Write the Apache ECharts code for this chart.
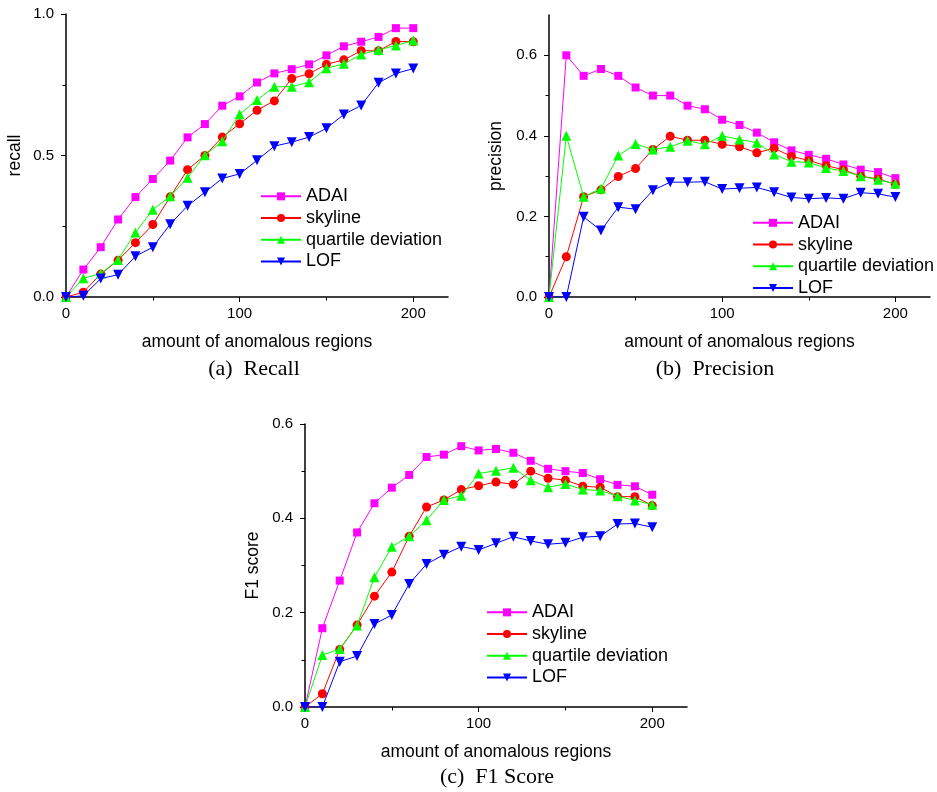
<!DOCTYPE html>
<html><head><meta charset="utf-8">
<script src="https://cdn.jsdelivr.net/npm/echarts@6/dist/echarts.min.js"></script>
<style>html,body{margin:0;padding:0;background:#fff}#c{width:937px;height:792px}</style>
</head><body><div id="c"></div>
<script>
const amounts = [0,10,20,30,40,50,60,70,80,90,100,110,120,130,140,150,160,170,180,190,200];
const seriesNames = ['ADAI','skyline','quartile deviation','LOF'];
const xTickLabels = [0,100,200];
const xMinorTicks = [50,150];

const recallADAI = [0,0.097,0.176,0.274,0.353,0.417,0.482,0.564,0.611,0.676,0.709,0.758,0.790,0.805,0.822,0.854,0.886,0.902,0.919,0.950,0.950];
const recallSkyline = [0,0.017,0.081,0.130,0.192,0.256,0.354,0.450,0.500,0.565,0.612,0.660,0.693,0.772,0.789,0.822,0.838,0.870,0.870,0.903,0.902];
const recallQuartile = [0,0.066,0.083,0.131,0.228,0.308,0.356,0.421,0.501,0.550,0.646,0.696,0.743,0.743,0.759,0.808,0.824,0.857,0.873,0.889,0.906];
const recallLOF = [0,0.004,0.065,0.079,0.144,0.176,0.257,0.322,0.370,0.419,0.435,0.483,0.533,0.547,0.565,0.596,0.645,0.677,0.757,0.790,0.807];

const precADAI = [0,0.600,0.549,0.566,0.549,0.520,0.500,0.500,0.475,0.466,0.440,0.427,0.408,0.384,0.364,0.353,0.343,0.329,0.316,0.310,0.295];
const precSkyline = [0,0.100,0.249,0.266,0.299,0.319,0.366,0.399,0.389,0.389,0.379,0.373,0.358,0.369,0.349,0.339,0.326,0.316,0.300,0.293,0.280];
const precQuartile = [0,0.400,0.249,0.269,0.351,0.380,0.366,0.373,0.388,0.379,0.400,0.391,0.383,0.354,0.336,0.334,0.320,0.313,0.300,0.291,0.281];
const precLOF = [0,0,0.199,0.165,0.223,0.218,0.265,0.285,0.285,0.286,0.268,0.270,0.272,0.260,0.247,0.244,0.246,0.244,0.259,0.256,0.248];

const f1ADAI = [0,0.167,0.268,0.370,0.432,0.465,0.492,0.530,0.535,0.553,0.544,0.547,0.539,0.522,0.505,0.500,0.496,0.483,0.471,0.468,0.450];
const f1Skyline = [0,0.028,0.122,0.174,0.235,0.286,0.362,0.424,0.439,0.461,0.469,0.477,0.472,0.500,0.485,0.481,0.468,0.466,0.446,0.446,0.427];
const f1Quartile = [0,0.110,0.123,0.173,0.275,0.340,0.362,0.396,0.439,0.448,0.495,0.501,0.507,0.481,0.466,0.473,0.461,0.459,0.447,0.438,0.429];
const f1LOF = [0,0,0.096,0.108,0.176,0.195,0.261,0.303,0.323,0.340,0.333,0.347,0.361,0.352,0.345,0.348,0.360,0.362,0.388,0.389,0.381];

const recallYLabels = [0,0.5,1.0];
const recallYMinor = [0.25,0.75];
const precYLabels = [0,0.2,0.4,0.6];
const precYMinor = [0.1,0.3,0.5];
const f1YLabels = [0,0.2,0.4,0.6];
const f1YMinor = [0.1,0.3,0.5];

const FONT = 'Liberation Sans, Arial, sans-serif';
const colors = ['#ff00ff','#ff0000','#00ff00','#0000ff'];
const symbols = ['rect','circle','triangle','path://M0,0 L10,0 L5,8.66 Z'];
const symbolSizes = [8,9,10,10];

const panels = [
  {grid:{left:66,top:14,width:382,height:283}, ymax:1.0, yLabels:recallYLabels, yMinor:recallYMinor, yName:'recall', yGap:42,
   data:[recallADAI,recallSkyline,recallQuartile,recallLOF], legend:{left:260,top:185.5}},
  {grid:{left:549,top:15,width:381,height:282}, ymax:0.7, yLabels:precYLabels, yMinor:precYMinor, yName:'precision', yGap:44,
   data:[precADAI,precSkyline,precQuartile,precLOF], legend:{left:752,top:212}},
  {grid:{left:305,top:424,width:382,height:283}, ymax:0.6, yLabels:f1YLabels, yMinor:f1YMinor, yName:'F1 score', yGap:43,
   data:[f1ADAI,f1Skyline,f1Quartile,f1LOF], legend:{left:486,top:601.5}}
];

const axisLine = {show:true, lineStyle:{color:'#000', width:1.5}};
const grids = [], xAxes = [], yAxes = [], series = [], legends = [];
panels.forEach((p,i)=>{
  grids.push(p.grid);
  xAxes.push({type:'value', gridIndex:i, min:0, max:220, position:'bottom',
    name:'amount of anomalous regions', nameLocation:'middle', nameGap:36,
    nameTextStyle:{fontFamily:FONT, fontSize:17.5, color:'#000'},
    axisLine, splitLine:{show:false},
    axisTick:{show:true, customValues:xTickLabels, length:5, lineStyle:{color:'#000', width:1}},
    axisLabel:{customValues:xTickLabels, fontFamily:FONT, fontSize:15, color:'#000', margin:9, formatter:v=>String(v)}});
  yAxes.push({type:'value', gridIndex:i, min:0, max:p.ymax, position:'left',
    name:p.yName, nameLocation:'middle', nameGap:p.yGap,
    nameTextStyle:{fontFamily:FONT, fontSize:17.5, color:'#000'},
    axisLine, splitLine:{show:false},
    axisTick:{show:true, customValues:p.yLabels, length:5, lineStyle:{color:'#000', width:1}},
    axisLabel:{customValues:p.yLabels, fontFamily:FONT, fontSize:15, color:'#000', margin:12, formatter:v=>v.toFixed(1)}});
  p.data.forEach((arr,k)=>{
    series.push({type:'line', name:seriesNames[k], xAxisIndex:i, yAxisIndex:i,
      data: amounts.map((x,j)=>[x,arr[j]]),
      symbol:symbols[k], symbolSize:symbolSizes[k], showAllSymbol:true,
      lineStyle:{color:colors[k], width:1}, itemStyle:{color:colors[k]},
      emphasis:{disabled:true}, animation:false, z:2+k});
  });
  legends.push({orient:'vertical', left:p.legend.left, top:p.legend.top, padding:0, itemWidth:40, itemHeight:10, itemGap:0,
    data:seriesNames, selectedMode:false,
    textStyle:{fontFamily:FONT, fontSize:18, color:'#000', lineHeight:21.7}});
});
// minor tick overlay axes
panels.forEach((p,i)=>{
  xAxes.push({type:'value', gridIndex:i, min:0, max:220, position:'bottom',
    axisLine:{show:false}, splitLine:{show:false}, axisLabel:{show:false},
    axisTick:{show:true, customValues:xMinorTicks, length:3.5, lineStyle:{color:'#000', width:1}}});
  yAxes.push({type:'value', gridIndex:i, min:0, max:p.ymax, position:'left',
    axisLine:{show:false}, splitLine:{show:false}, axisLabel:{show:false},
    axisTick:{show:true, customValues:p.yMinor, length:3.5, lineStyle:{color:'#000', width:1}}});
});

const captionStyle = {fontFamily:'Liberation Serif, Times New Roman, serif', fontSize:22, fill:'#000', align:'center', verticalAlign:'middle'};
const graphic = [
  {type:'text', x:254, y:369, style:Object.assign({text:'(a)\u2002Recall'}, captionStyle)},
  {type:'text', x:715, y:369, style:Object.assign({text:'(b)\u2002Precision'}, captionStyle)},
  {type:'text', x:497, y:777, style:Object.assign({text:'(c)\u2002F1 Score'}, captionStyle)}
];

const chart = echarts.init(document.getElementById('c'), null, {renderer:'canvas'});
chart.setOption({animation:false, backgroundColor:'#fff', grid:grids, xAxis:xAxes, yAxis:yAxes, series, legend:legends, graphic});
</script>
</body></html>
